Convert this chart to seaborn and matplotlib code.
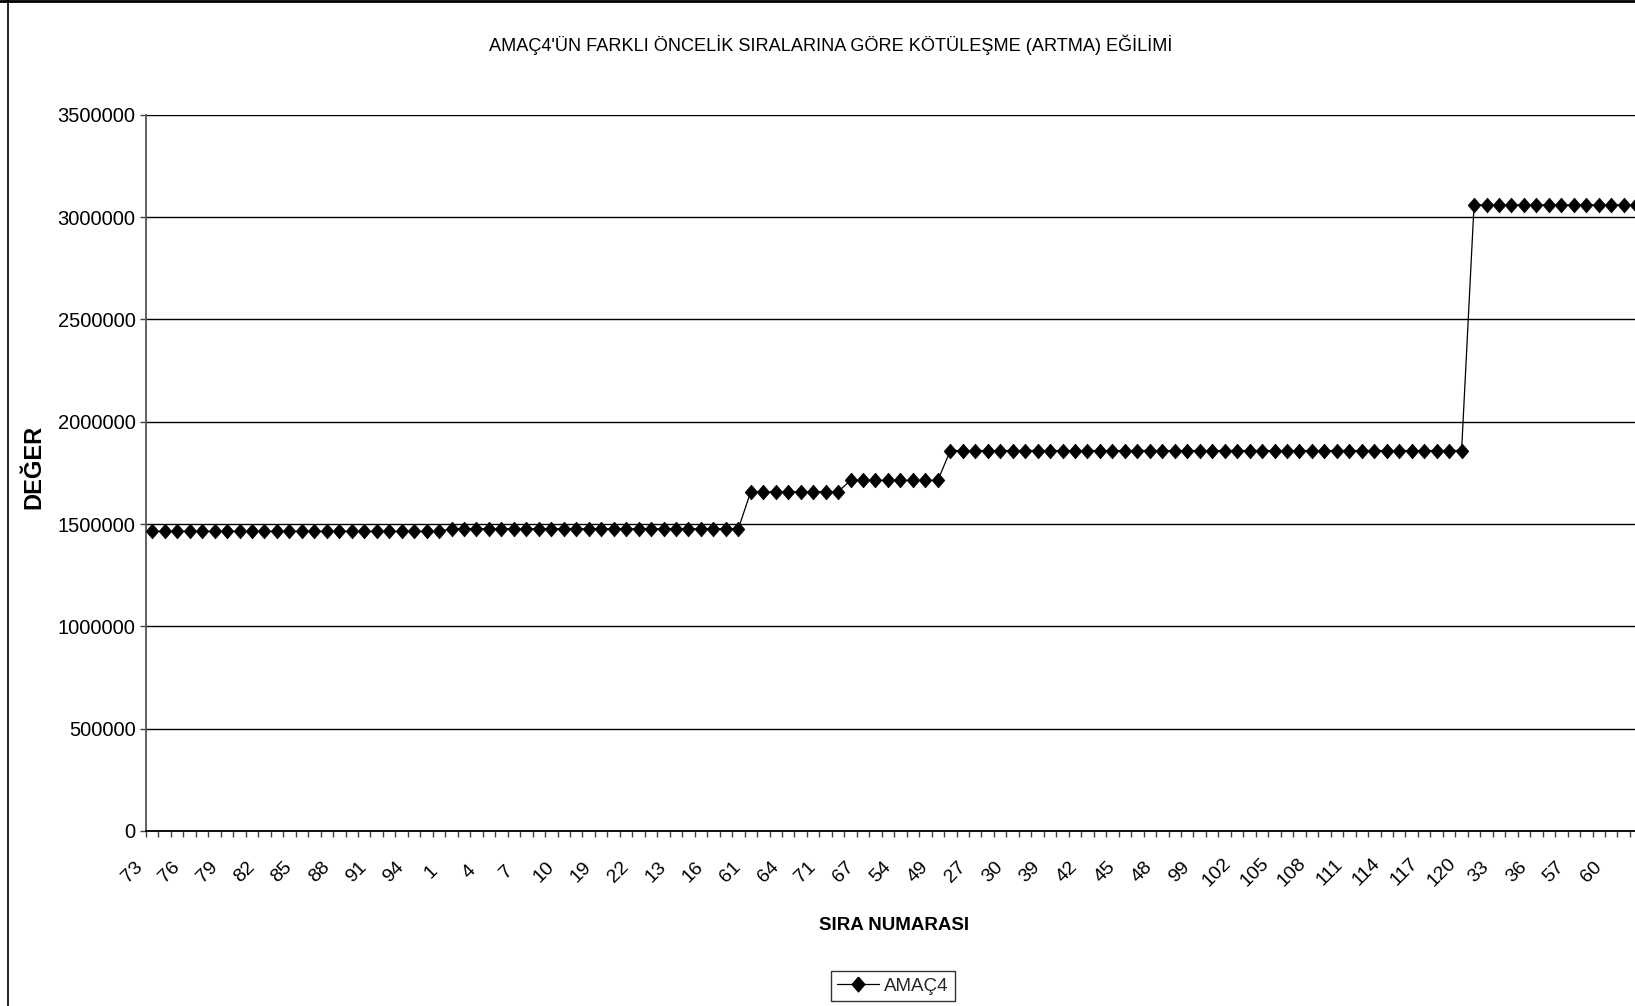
import numpy as np
import pandas as pd
import matplotlib
matplotlib.use("Agg")
import matplotlib.pyplot as plt
import seaborn as sns
from matplotlib.lines import Line2D
from matplotlib.ticker import FixedLocator, FuncFormatter
from matplotlib.transforms import ScaledTranslation

# Order in which the priority numbers were evaluated (x axis categories)
categories = [
    73, 74, 75, 76, 77, 78, 79, 80, 81, 82, 83, 84, 85, 86, 87, 88, 89, 90, 91, 92, 93, 94, 95, 96,
    1, 2, 3, 4, 5, 6, 7, 8, 9, 10, 11, 12,
    19, 20, 21, 22, 23, 24,
    13, 14, 15, 16, 17, 18,
    61, 62, 63, 64, 65, 66, 71, 72,
    70, 67, 68, 69, 54, 55, 56, 49,
    50, 51, 27, 28, 29, 30, 31, 32, 39, 40, 41, 42, 43, 44, 45, 46, 47, 48, 97, 98,
    99, 100, 101, 102, 103, 104, 105, 106, 107, 108, 109, 110, 111, 112, 113, 114, 115, 116, 117, 118, 119, 120,
    52, 53, 33, 34, 35, 36, 37, 38, 57, 58, 59, 60, 25, 26,
]

# AMAÇ4 objective value for each position
values = [
    1464000, 1464000, 1464000, 1464000, 1464000, 1464000, 1464000, 1464000, 1464000, 1464000, 1464000, 1464000,
    1464000, 1464000, 1464000, 1464000, 1464000, 1464000, 1464000, 1464000, 1464000, 1464000, 1464000, 1464000,
    1477000, 1477000, 1477000, 1477000, 1477000, 1477000, 1477000, 1477000, 1477000, 1477000, 1477000, 1477000,
    1477000, 1477000, 1477000, 1477000, 1477000, 1477000, 1477000, 1477000, 1477000, 1477000, 1477000, 1477000,
    1658000, 1658000, 1658000, 1658000, 1658000, 1658000, 1658000, 1658000,
    1713000, 1713000, 1713000, 1713000, 1713000, 1713000, 1713000, 1713000,
    1859000, 1859000, 1859000, 1859000, 1859000, 1859000, 1859000, 1859000, 1859000, 1859000, 1859000, 1859000,
    1859000, 1859000, 1859000, 1859000, 1859000, 1859000, 1859000, 1859000, 1859000, 1859000, 1859000, 1859000,
    1859000, 1859000, 1859000, 1859000, 1859000, 1859000, 1859000, 1859000, 1859000, 1859000, 1859000, 1859000,
    1859000, 1859000, 1859000, 1859000, 1859000, 1859000,
    3059000, 3059000, 3059000, 3059000, 3059000, 3059000, 3059000, 3059000, 3059000, 3059000, 3059000, 3059000,
    3059000, 3059000,
]

y_ticks = [0, 500000, 1000000, 1500000, 2000000, 2500000, 3000000, 3500000]
series_name = "AMAÇ4"
title_text = "AMAÇ4'ÜN FARKLI ÖNCELİK SIRALARINA GÖRE KÖTÜLEŞME (ARTMA) EĞİLİMİ"
x_label = "SIRA NUMARASI"
y_label = "DEĞER"

sns.set_theme(style="white")
plt.rcParams["font.family"] = ["Liberation Sans", "DejaVu Sans"]

W, H = 1635, 1006
fig = plt.figure(figsize=(W / 100, H / 100), dpi=100)
fig.patch.set_facecolor("white")

n = len(categories)
step_px = 12.47
left_px, top_px, bottom_px = 146, 114.7, 831
ax = fig.add_axes([left_px / W, 1 - bottom_px / H, n * step_px / W, (bottom_px - top_px) / H])

df = pd.DataFrame({"pos": np.arange(n), "sira": [str(c) for c in categories], "deger": values})

diamond = [(0, 1), (0.86, 0), (0, -1), (-0.86, 0), (0, 1)]
sns.lineplot(
    data=df, x="pos", y="deger", ax=ax, sort=False, color="black", lw=0.9,
    marker=diamond, markersize=10.6, markerfacecolor="black", markeredgecolor="black",
    markeredgewidth=0.5, legend=False, zorder=3,
)

ax.set_xlim(-0.5, n - 0.5)
ax.set_ylim(0, 3500000)

# horizontal gridlines
ax.set_yticks(y_ticks)
ax.yaxis.set_major_formatter(FuncFormatter(lambda v, p: f"{int(v)}"))
ax.yaxis.grid(True, color="black", lw=1.0)
ax.xaxis.grid(False)
ax.set_axisbelow(True)

# category labels every third position, tick marks between categories
label_pos = list(range(0, n, 3))
ax.xaxis.set_major_locator(FixedLocator(label_pos))
ax.set_xticklabels([str(categories[i]) for i in label_pos])
ax.xaxis.set_minor_locator(FixedLocator(np.arange(-0.5, n, 1.0)))
ax.tick_params(axis="x", which="major", length=0, pad=29.5, labelsize=14)
ax.tick_params(axis="x", which="minor", bottom=True, length=4.5, width=1.0, color="#444444", direction="out")
ax.tick_params(axis="y", which="major", left=True, length=4.5, width=1.0, color="#444444",
               direction="out", pad=3, labelsize=14.5)

# rotated category labels sit slightly left of their category
label_shift = ScaledTranslation(-20 / 100, 0, fig.dpi_scale_trans)
for lbl in ax.get_xticklabels():
    lbl.set_rotation(45)
    lbl.set_ha("center")
    lbl.set_va("center")
    lbl.set_rotation_mode("anchor")
    lbl.set_transform(lbl.get_transform() + label_shift)
for lbl in ax.get_yticklabels() + ax.get_xticklabels():
    lbl.set_color("black")

for side in ["top", "right"]:
    ax.spines[side].set_visible(False)
ax.spines["left"].set_color("#555555")
ax.spines["left"].set_linewidth(1.3)
ax.spines["bottom"].set_color("black")
ax.spines["bottom"].set_linewidth(1.3)

ax.set_xlabel("")
ax.set_ylabel("")

fig.text(831 / W, 1 - 45 / H, title_text, ha="center", va="center", fontsize=13.1, color="black")
fig.text(894 / W, 1 - 925 / H, x_label, ha="center", va="center", fontsize=13.5,
         fontweight="bold", color="black")
fig.text(34 / W, 1 - 467 / H, y_label, ha="center", va="center", rotation=90, fontsize=17,
         fontweight="bold", color="black")

handle = Line2D([], [], color="black", lw=0.9, marker=diamond, markersize=10.6,
                markerfacecolor="black", markeredgecolor="black")
leg = fig.legend([handle], [series_name], loc="center", bbox_to_anchor=(893 / W, 1 - 986 / H),
                 frameon=True, fancybox=False, fontsize=13.5, handlelength=2.2,
                 handletextpad=0.3, borderpad=0.35, borderaxespad=0)
leg.get_frame().set_edgecolor("black")
leg.get_frame().set_linewidth(1.0)

# outer chart frame
fig.add_artist(Line2D([8 / W, 8 / W], [0, 1], transform=fig.transFigure, color="black", lw=1.2))
fig.add_artist(Line2D([0, 1], [1 - 1 / H, 1 - 1 / H], transform=fig.transFigure, color="black", lw=2.0))

fig.savefig("out.png", dpi=100)
